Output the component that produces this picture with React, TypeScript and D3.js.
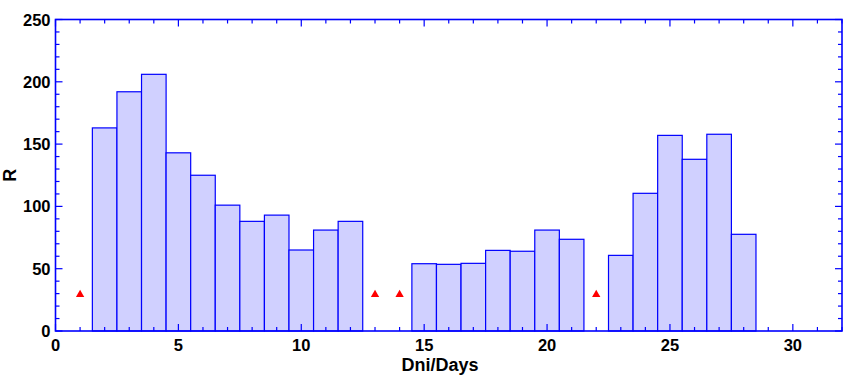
import React from "react";
import * as d3 from "d3";

const barDays = [2, 3, 4, 5, 6, 7, 8, 9, 10, 11, 12, 15, 16, 17, 18, 19, 20, 21, 23, 24, 25, 26, 27, 28];
const barValues = [163, 192, 206, 143, 125, 101, 88, 93, 65, 81, 88, 54, 53.5, 54.3, 64.7, 64, 81, 73.6, 60.7, 110.5, 157, 137.8, 157.9, 77.6];
const markerDays = [1, 13, 14, 22];
const markerValues = [30, 30, 30, 30];
const xTicks = [0, 5, 10, 15, 20, 25, 30];
const yTicks = [0, 50, 100, 150, 200, 250];

const W = 843, H = 376;
const L = 55.5, T = 19.5, R = 842, B = 331;

export default function App() {
  const x = d3.scaleLinear().domain([0, 32]).range([L, R]);
  const y = d3.scaleLinear().domain([0, 250]).range([B, T]);
  const minorX = d3.range(0, 33, 1);
  const minorY = d3.range(0, 251, 10);
  const blue = "#0000ff";
  const font = "'Liberation Sans', Arial, sans-serif";
  const tri = d3.symbol().type(d3.symbolTriangle).size(30)();

  return (
    <svg width={W} height={H} style={{ position: "absolute", left: 0, top: 0 }}>
      <rect x={0} y={0} width={W} height={H} fill="#fff" />
      {barDays.map((d, i) => (
        <rect
          key={d}
          x={x(d - 0.5)}
          y={y(barValues[i])}
          width={x(d + 0.5) - x(d - 0.5)}
          height={y(0) - y(barValues[i])}
          fill="#d0d0ff"
          stroke={blue}
          strokeWidth={1.2}
        />
      ))}
      {markerDays.map((d, i) => (
        <path key={d} d={tri!} transform={`translate(${x(d)},${y(markerValues[i]) + 1})`} fill="#ff0000" />
      ))}
      {minorX.map((v) => {
        const major = v % 5 === 0;
        const len = major ? 7 : 4;
        return (
          <g key={"x" + v}>
            <line x1={x(v)} x2={x(v)} y1={B} y2={B - len} stroke={blue} strokeWidth={1.2} />
            <line x1={x(v)} x2={x(v)} y1={T} y2={T + len} stroke={blue} strokeWidth={1.2} />
          </g>
        );
      })}
      {minorY.map((v) => {
        const major = v % 50 === 0;
        const len = major ? 7 : 4;
        return (
          <g key={"y" + v}>
            <line x1={L} x2={L + len} y1={y(v)} y2={y(v)} stroke={blue} strokeWidth={1.2} />
            <line x1={R} x2={R - len} y1={y(v)} y2={y(v)} stroke={blue} strokeWidth={1.2} />
          </g>
        );
      })}
      <rect x={L} y={T} width={R - L} height={B - T} fill="none" stroke={blue} strokeWidth={1.6} />
      {xTicks.map((v) => (
        <text key={"xl" + v} x={x(v)} y={B + 19.5} textAnchor="middle" fontFamily={font} fontWeight="bold" fontSize={16.5} fill="#000">
          {v}
        </text>
      ))}
      {yTicks.map((v) => (
        <text key={"yl" + v} x={L - 5} y={y(v) + 6} textAnchor="end" fontFamily={font} fontWeight="bold" fontSize={16.5} fill="#000">
          {v}
        </text>
      ))}
      <text x={440} y={371} textAnchor="middle" fontFamily={font} fontWeight="bold" fontSize={18} fill="#000">
        Dni/Days
      </text>
      <text transform={`translate(16,${(T + B) / 2}) rotate(-90)`} textAnchor="middle" fontFamily={font} fontWeight="bold" fontSize={18} fill="#000">
        R
      </text>
    </svg>
  );
}
